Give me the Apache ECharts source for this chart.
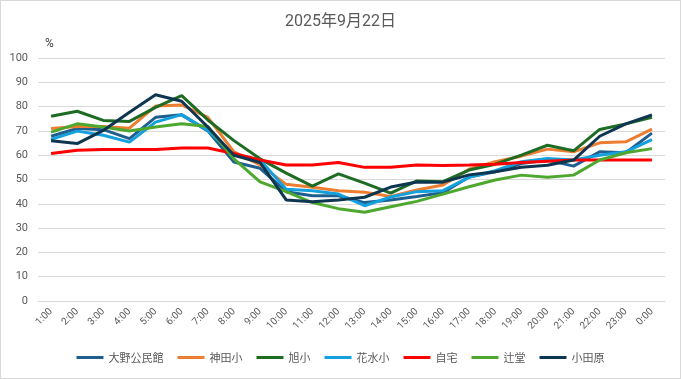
<!DOCTYPE html>
<html><head><meta charset="utf-8">
<script src="https://cdn.jsdelivr.net/npm/echarts@6/dist/echarts.min.js"></script>
<style>html,body{margin:0;padding:0;background:#fff}#c{width:681px;height:379px;box-sizing:border-box;border:1px solid #d9d9d9}</style>
</head><body><div id="c"></div>
<script>
const categories = ['1:00','2:00','3:00','4:00','5:00','6:00','7:00','8:00','9:00','10:00','11:00','12:00','13:00','14:00','15:00','16:00','17:00','18:00','19:00','20:00','21:00','22:00','23:00','0:00'];
const ono   = [67.8,71,70.5,66.8,75.6,76.6,70,57.2,54.6,45,43.3,43.3,40.5,41.6,43,44.6,51,53.2,56.6,58,55.5,61.4,61,69.1];
const kanda = [71,71.8,71.8,71.1,80.2,80.7,75.6,61.4,56,48,46.8,45.4,44.8,43,45.7,47.7,54.2,57.3,59.6,62.5,61.4,65.1,65.5,70.7];
const asahi = [76,78.1,74.3,73.9,79.7,84.5,74.5,66,58.5,52.6,47.3,52.3,48.5,44.4,49.4,49.1,53.9,56.3,60,64.1,61.8,70.6,72.9,75.6];
const hanamizu = [66.5,69.9,68.2,65.4,73.6,76.7,70.2,60,58,46,45.4,44,39.2,42.8,45,45.4,50.9,53.6,57.3,58.6,58,60,61.4,66.4];
const jitaku = [60.7,62,62.3,62.3,62.3,63,63,60.7,58,56,56,57,55,55,56,55.8,56,56.3,57,57.5,58,58,58,58];
const tsujido = [69.5,72.9,71.6,70,71.6,72.9,71.8,58.5,49,45,40.5,38,36.5,38.8,41,44,47,49.8,51.8,50.9,51.8,58,61,62.7];
const odawara = [65.9,64.8,70.2,77.7,84.9,82.2,71.6,60,57,41.6,40.8,41.6,42.7,46.9,49,48.9,51.9,53.2,55,55.9,58,67.8,72.9,76.6];
const names = ['大野公民館','神田小','旭小','花水小','自宅','辻堂','小田原'];
const colors = ['#1f5f8f','#ed7d31','#1e6b24','#14a0dc','#ff0000','#4ea72e','#0e3650'];
const seriesData = [ono,kanda,asahi,hanamizu,jitaku,tsujido,odawara];
const yTicks = {min:0,max:100,interval:10};

const chart = echarts.init(document.getElementById('c'));
chart.setOption({
  animation:false,
  title:[{text:'2025年9月22日',left:'center',top:8,textStyle:{fontSize:16,fontWeight:'normal',color:'#595959',fontFamily:'Roboto, "Noto Sans CJK JP", sans-serif'}},
         {text:'%',left:39,top:32,textStyle:{fontSize:12,fontWeight:'normal',color:'#404040',fontFamily:'Roboto, sans-serif'}}],
  grid:{left:37,right:15,top:57,bottom:77},
  legend:{bottom:10,left:'center',icon:'rect',itemWidth:27,itemHeight:3,itemGap:14,
    textStyle:{fontSize:11,color:'#595959',fontFamily:'"Noto Sans CJK JP", sans-serif'},data:names},
  xAxis:{type:'category',data:categories,boundaryGap:true,
    axisLine:{lineStyle:{color:'#d9d9d9'}},axisTick:{show:false},
    axisLabel:{rotate:45,color:'#595959',fontSize:10,margin:9,fontFamily:'Roboto, sans-serif'}},
  yAxis:{type:'value',min:yTicks.min,max:yTicks.max,interval:yTicks.interval,
    splitLine:{lineStyle:{color:'#d9d9d9'}},axisLine:{show:false},axisTick:{show:false},
    axisLabel:{color:'#595959',fontSize:11,margin:10,fontFamily:'Roboto, sans-serif'}},
  series:names.map((n,i)=>({name:n,type:'line',data:seriesData[i],symbol:'none',
    lineStyle:{width:3,color:colors[i]},itemStyle:{color:colors[i]}}))
});
</script></body></html>
